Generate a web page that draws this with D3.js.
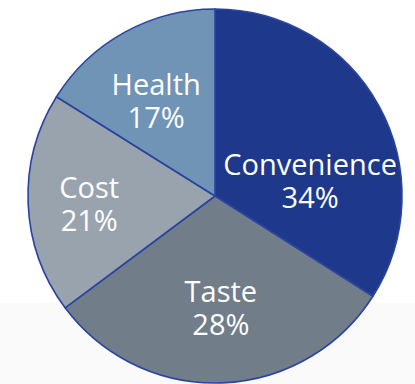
<!DOCTYPE html>
<html>
<head>
<meta charset="utf-8">
<script src="https://cdn.jsdelivr.net/npm/d3@7"></script>
<style>
  html, body { margin: 0; padding: 0; background: #fff; }
  svg { display: block; }
  .lbl { font-family: "Open Sans", sans-serif; fill: #fff; }
</style>
</head>
<body>
<div id="chart"></div>
<script>
// data
var categories = ["Convenience", "Taste", "Cost", "Health"];
var labelPct = [34, 28, 21, 17];          // printed labels
var sliceShare = [34, 30.8, 19.1, 16.1];  // angles as drawn
var colors = ["#1e398b", "#717d89", "#99a3ad", "#6f94b6"];

var W = 415, H = 384;
var cx = 215, cy = 196, R = 187;
// small nudges so labels sit where the original put them
var labelNudge = [[5, 34], [2, 9], [-23, 3], [-9, -6]];

var svg = d3.select('#chart').append('svg')
  .attr('width', W)
  .attr('height', H);

// very faint grey band at the bottom
svg.append('rect')
  .attr('x', 0).attr('y', 303)
  .attr('width', W).attr('height', H - 303)
  .attr('fill', '#fafafb');

var rows = categories.map(function(c, i) {
  return { name: c, pct: labelPct[i], share: sliceShare[i], color: colors[i], nudge: labelNudge[i] };
});

var pie = d3.pie().sort(null).value(function(d) { return d.share; });
var arc = d3.arc().innerRadius(0).outerRadius(R);
var labelArc = d3.arc().innerRadius(R * 0.55).outerRadius(R * 0.55);

var g = svg.append('g').attr('transform', 'translate(' + cx + ',' + cy + ')');

g.selectAll('path')
  .data(pie(rows))
  .enter()
  .append('path')
  .attr('d', arc)
  .attr('fill', function(d) { return d.data.color; })
  .attr('stroke', '#2a44a0')
  .attr('stroke-width', 1.6)
  .attr('stroke-linejoin', 'round');

var lab = g.selectAll('text.lbl')
  .data(pie(rows))
  .enter()
  .append('text')
  .attr('class', 'lbl')
  .attr('text-anchor', 'middle')
  .attr('font-size', 29)
  .attr('transform', function(d) {
    var c = labelArc.centroid(d);
    return 'translate(' + (c[0] + d.data.nudge[0]) + ',' + (c[1] + d.data.nudge[1]) + ')';
  });

lab.append('tspan')
  .attr('x', 0)
  .attr('y', -5.5)
  .text(function(d) { return d.data.name; });
lab.append('tspan')
  .attr('x', 0)
  .attr('y', 27.5)
  .text(function(d) { return d.data.pct + '%'; });
</script>
</body>
</html>
